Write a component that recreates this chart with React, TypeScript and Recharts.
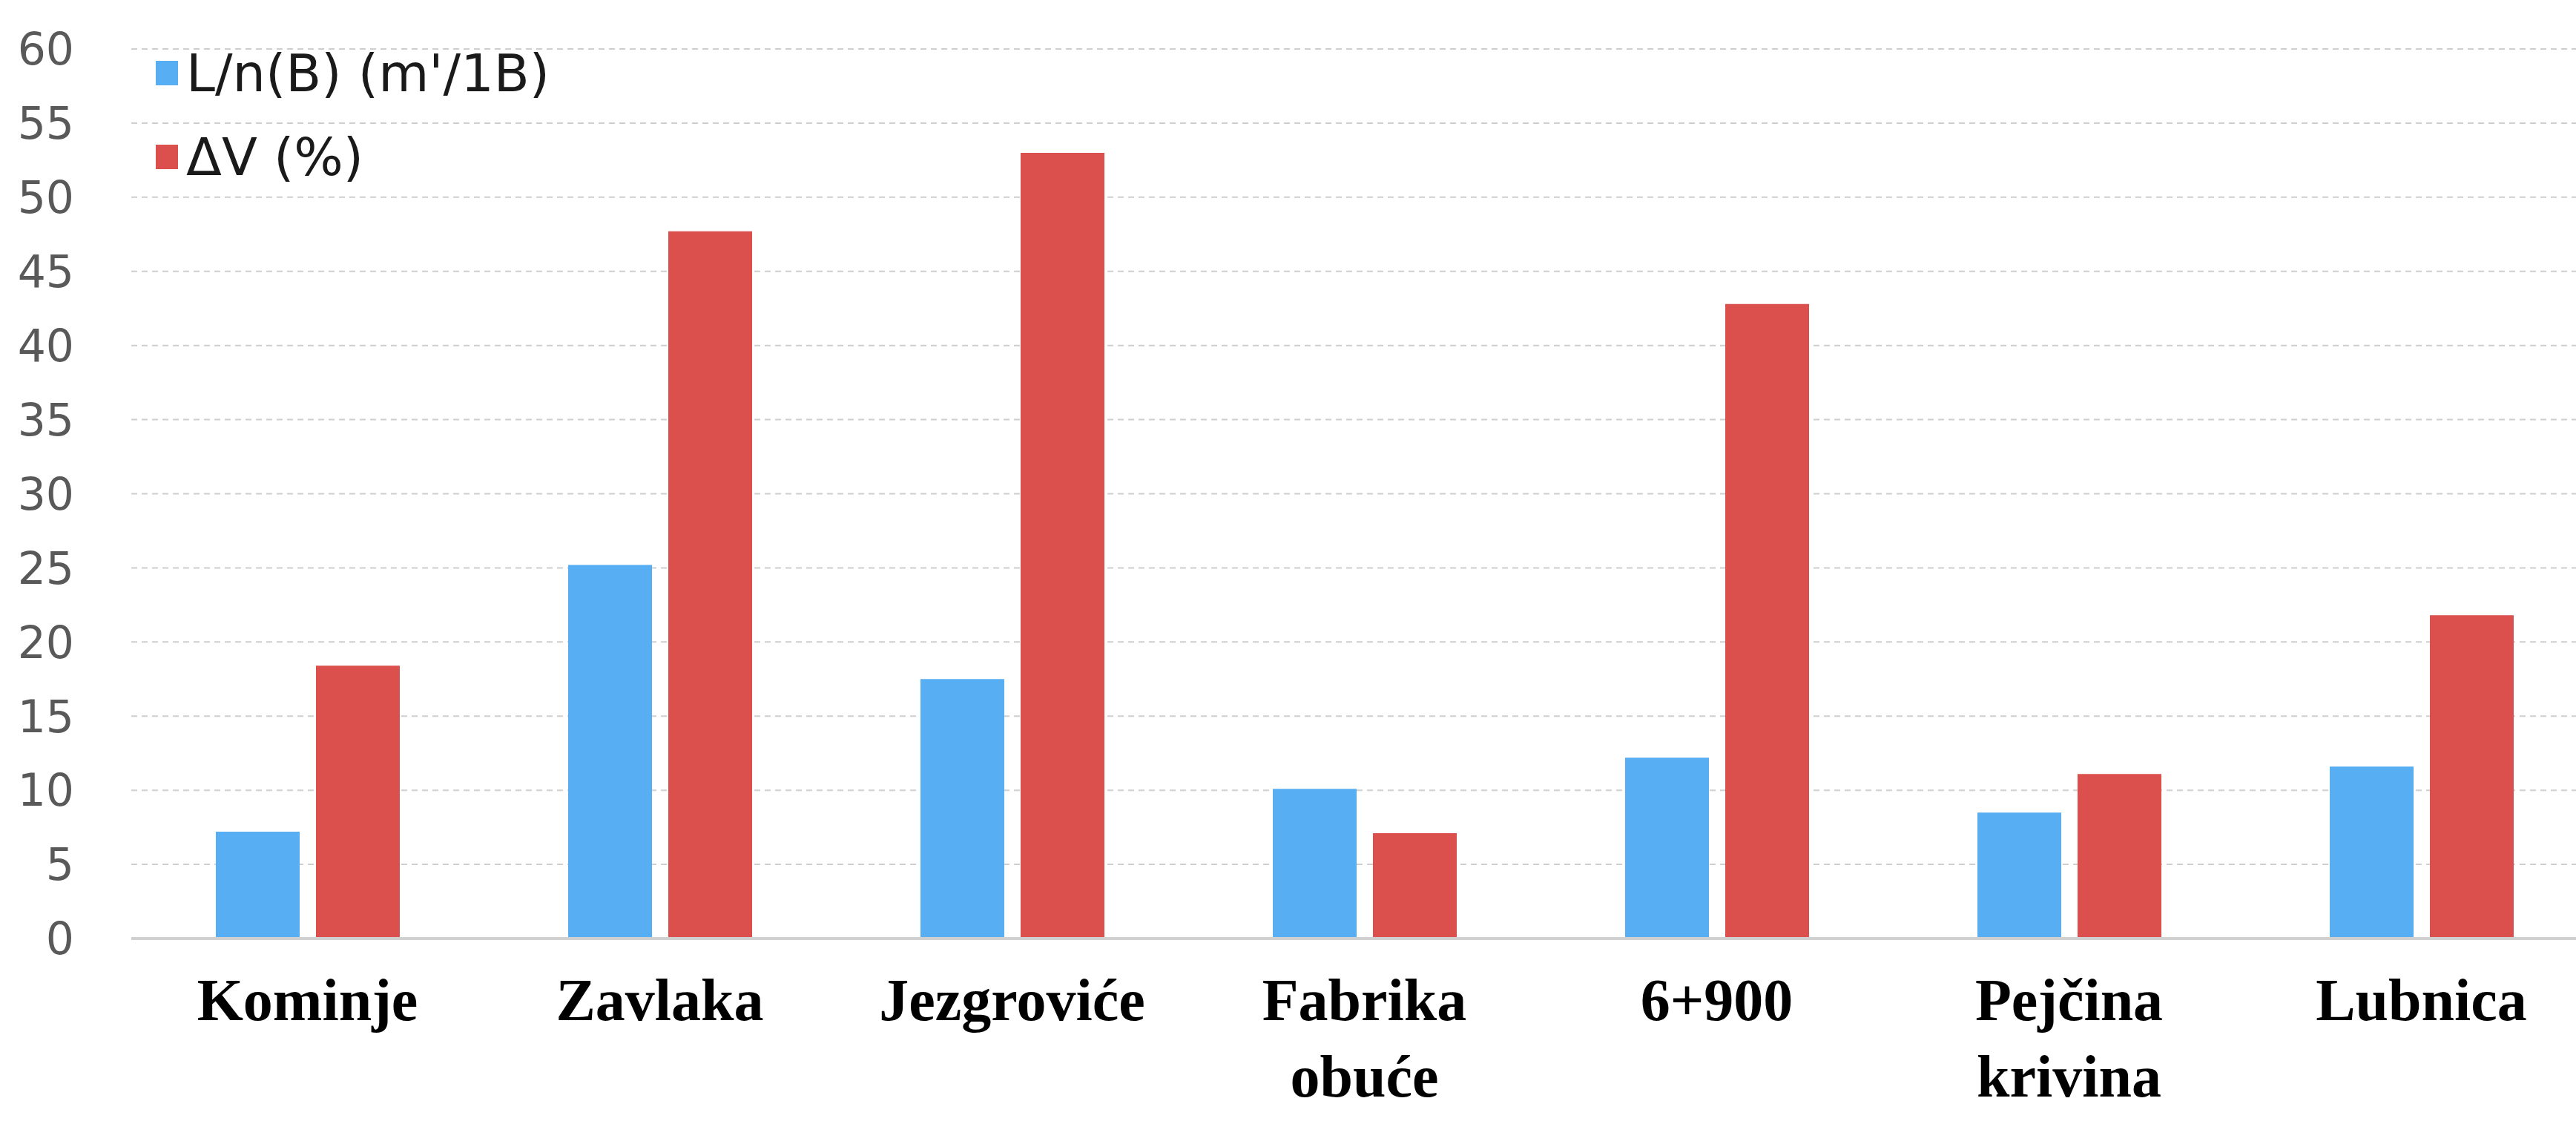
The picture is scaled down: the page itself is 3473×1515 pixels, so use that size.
import React from 'react';
import { BarChart, Bar, XAxis, YAxis, CartesianGrid } from 'recharts';

const CATEGORIES = ['Kominje', 'Zavlaka', 'Jezgroviće', 'Fabrika obuće', '6+900', 'Pejčina krivina', 'Lubnica'];
const LENGTH_PER_BLOCK = [7.2, 25.2, 17.5, 10.1, 12.2, 8.5, 11.6];
const VOLUME_CHANGE = [18.4, 47.7, 53.0, 7.1, 42.8, 11.1, 21.8];
const Y_TICKS = [0, 5, 10, 15, 20, 25, 30, 35, 40, 45, 50, 55, 60];

const SERIES = [
  { key: 'lnb', name: "L/n(B) (m'/1B)", color: '#58aef2' },
  { key: 'dv', name: 'ΔV (%)', color: '#db4f4d' }
];

const data = CATEGORIES.map((name, i) => ({
  name,
  lnb: LENGTH_PER_BLOCK[i],
  dv: VOLUME_CHANGE[i]
}));

// category labels: bold serif, wrapped on spaces
const CategoryTick = ({ x, y, payload }: any) => {
  const lines = String(payload.value).split(' ');
  return (
    <text
      x={x}
      y={y}
      textAnchor="middle"
      fontFamily="'Liberation Serif', 'Times New Roman', serif"
      fontWeight={700}
      fontSize={80}
      fill="#000"
    >
      {lines.map((line, i) => (
        <tspan key={i} x={x} dy={i === 0 ? 110 : 103}>
          {line}
        </tspan>
      ))}
    </text>
  );
};

// legend sits inside the plot, top-left, gridlines show through
const LegendBox = () => (
  <div
    style={{
      position: 'absolute',
      left: 210,
      top: 42,
      fontFamily: "'DejaVu Sans', sans-serif",
      fontSize: 70,
      color: '#1a1a1a'
    }}
  >
    {SERIES.map(s => (
      <div key={s.key} style={{ display: 'flex', alignItems: 'center', height: 113, whiteSpace: 'nowrap' }}>
        <span style={{ display: 'inline-block', width: 30, height: 33, background: s.color, marginRight: 11 }} />
        <span>{s.name}</span>
      </div>
    ))}
  </div>
);

export default function App() {
  return (
    <div style={{ position: 'fixed', left: 0, top: 0, width: 3473, height: 1515, overflow: 'hidden', background: '#fff' }}>
      <BarChart
        width={3502}
        height={1515}
        data={data}
        margin={{ top: 66, right: 0, bottom: 0, left: 0 }}
        barGap={22}
      >
        <CartesianGrid vertical={false} stroke="#cfcfcf" strokeWidth={2} strokeDasharray="8 6" />
        <XAxis
          dataKey="name"
          height={250}
          interval={0}
          tickLine={false}
          tickSize={0}
          tickMargin={0}
          axisLine={{ stroke: '#d0d0d0', strokeWidth: 4 }}
          tick={<CategoryTick />}
        />
        <YAxis
          width={177}
          domain={[0, 60]}
          ticks={Y_TICKS}
          interval={0}
          axisLine={false}
          tickLine={false}
          tickSize={0}
          tickMargin={77}
          tick={{ fill: '#595959', fontSize: 60, fontFamily: "'DejaVu Sans', sans-serif" }}
        />
        {SERIES.map(s => (
          <Bar key={s.key} dataKey={s.key} name={s.name} fill={s.color} barSize={113} isAnimationActive={false} />
        ))}
      </BarChart>
      <LegendBox />
    </div>
  );
}
